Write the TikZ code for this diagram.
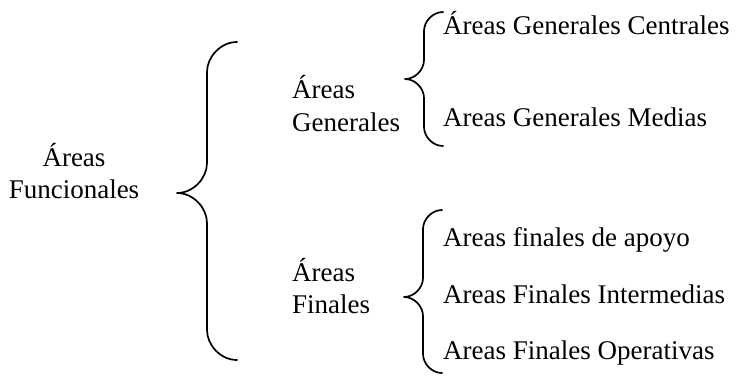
\documentclass[tikz,border=0pt]{standalone}
\usepackage{fontspec}
\setmainfont{Liberation Serif}
\usepackage{tikz}
\tikzset{
  texto/.style={inner sep=0pt,font=\fontsize{27}{32}\selectfont},
  llave/.style={line width=1.7pt,line cap=round,line join=round}
}
% llave: x of the stem, top, tip, bottom, half width
\newcommand{\llave}[5]{%
  \draw[llave] ({#1+#5},#2) .. controls ({#1+0.45*#5},#2) and (#1,{#2+0.5*#5}) .. (#1,{#2+#5})
    -- (#1,{#3-#5}) .. controls (#1,{#3-0.5*#5}) and ({#1-0.45*#5},#3) .. ({#1-#5},#3)
    .. controls ({#1-0.45*#5},#3) and (#1,{#3+0.5*#5}) .. (#1,{#3+#5})
    -- (#1,{#4-#5}) .. controls (#1,{#4-0.5*#5}) and ({#1+0.45*#5},#4) .. ({#1+#5},#4);}

\begin{document}
\begin{tikzpicture}[x=1pt,y=-1pt]
  \useasboundingbox (0,0) rectangle (739,376);
  % first level
  \node[texto,anchor=base] (fun1) at (74,166) {Áreas};
  \node[texto,anchor=base] (fun2) at (74,198) {Funcionales};
  \llave{207}{42}{193}{360}{30}
  % second level
  \node[texto,anchor=base west] (gen1) at (292,98) {Áreas};
  \node[texto,anchor=base west] (gen2) at (292,131) {Generales};
  \node[texto,anchor=base west] (fin1) at (292,281) {Áreas};
  \node[texto,anchor=base west] (fin2) at (292,313) {Finales};
  \llave{424}{12}{79}{146}{19}
  \llave{423}{210}{297}{373}{19}
  % third level
  \node[texto,anchor=base west] (centrales) at (443,34) {Áreas Generales Centrales};
  \node[texto,anchor=base west] (medias) at (443,126) {Areas Generales Medias};
  \node[texto,anchor=base west] (apoyo) at (443,246) {Areas finales de apoyo};
  \node[texto,anchor=base west] (intermedias) at (443,303) {Areas Finales Intermedias};
  \node[texto,anchor=base west] (operativas) at (443,359) {Areas Finales Operativas};
\end{tikzpicture}
\end{document}
